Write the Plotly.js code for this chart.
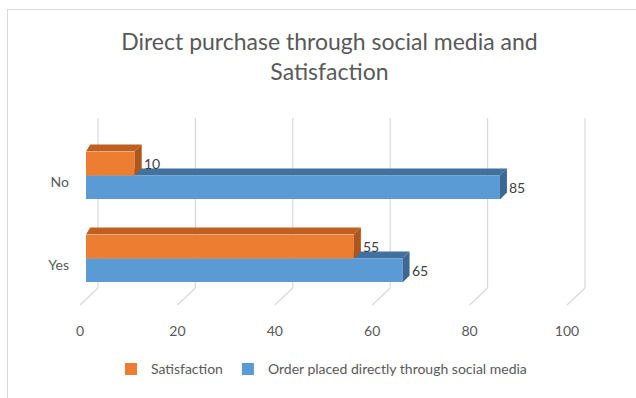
<!DOCTYPE html>
<html>
<head>
<meta charset="utf-8">
<script src="https://cdn.plot.ly/plotly-3.0.1.min.js"></script>
<style>
  html, body { margin: 0; padding: 0; background: #ffffff; }
  #wrap { position: relative; width: 636px; height: 398px; overflow: hidden; }
  #frame { position: absolute; left: 7px; top: 9px; width: 660px; height: 420px; border: 1px solid #d9d9d9; box-sizing: border-box; }
  #chart { position: absolute; left: 0; top: 0; width: 636px; height: 398px; }
</style>
</head>
<body>
<div id="wrap">
  <div id="frame"></div>
  <div id="chart"></div>
</div>
<script>
// ---- data ----
const categories = ['Yes', 'No'];
const satisfaction = [55, 10];
const orderPlaced = [65, 85];
const seriesNames = ['Order placed directly through social media', 'Satisfaction'];
const xTickValues = [0, 20, 40, 60, 80, 100];
const xTickLabels = ['0', '20', '40', '60', '80', '100'];

// ---- styling ----
const W = 636, H = 398;
const M = { l: 86, r: 63, t: 134, b: 94 };
const plotW = W - M.l - M.r;
const plotH = H - M.t - M.b;
const xRange = [0, 100];
const yRange = [-0.5, 1.5];
const pxPerX = plotW / (xRange[1] - xRange[0]);
const pxPerCat = plotH / (yRange[1] - yRange[0]);
const bargap = 0.435;
const barPx = pxPerCat * (1 - bargap) / 2;
const depth = 7;
const colors = {
  orange: '#ED7D31', orangeTop: '#BF6020', orangeSide: '#AE561B',
  blue: '#5B9BD5', blueTop: '#41719C', blueSide: '#3C6894'
};
const fontFamily = 'Lato, "Open Sans", sans-serif';

const traces = [
  { type: 'bar', orientation: 'h', name: seriesNames[0], y: categories, x: orderPlaced,
    marker: { color: colors.blue, line: { width: 0 } }, hoverinfo: 'x+name' },
  { type: 'bar', orientation: 'h', name: seriesNames[1], y: categories, x: satisfaction,
    marker: { color: colors.orange, line: { width: 0 } }, hoverinfo: 'x+name' }
];

// 3D faces built from the data values
const shapes = [];
function faces(values, topOffset, topColor, sideColor, layerTop) {
  values.forEach((v, i) => {
    const len = v * pxPerX;
    const top = topOffset;
    shapes.push({
      type: 'path', layer: layerTop, xref: 'x', yref: 'y',
      xsizemode: 'pixel', ysizemode: 'pixel', xanchor: v, yanchor: categories[i],
      path: `M${-len},${top} L${-len + depth * 0.6},${top + depth} L${depth},${top + depth} L0,${top} Z`,
      fillcolor: topColor, line: { width: 0 }
    });
    shapes.push({
      type: 'path', layer: 'above', xref: 'x', yref: 'y',
      xsizemode: 'pixel', ysizemode: 'pixel', xanchor: v, yanchor: categories[i],
      path: `M0,${top} L${depth},${top + depth} L${depth},${top - barPx + depth} L0,${top - barPx} Z`,
      fillcolor: sideColor, line: { width: 0 }
    });
  });
}
// gridlines on back plane with perspective diagonal (positions from the axis range)
xTickValues.forEach(t => {
  const frac = (t - xRange[0]) / (xRange[1] - xRange[0]);
  shapes.push({ type: 'line', layer: 'below', xref: 'paper', yref: 'paper',
    xsizemode: 'pixel', ysizemode: 'pixel', xanchor: frac, yanchor: 0,
    x0: 12, x1: 12, y0: 12, y1: 182, line: { color: '#d9d9d9', width: 1.2 } });
  shapes.push({ type: 'line', layer: 'below', xref: 'paper', yref: 'paper',
    xsizemode: 'pixel', ysizemode: 'pixel', xanchor: frac, yanchor: 0,
    x0: 12, x1: -6, y0: 12, y1: -5, line: { color: '#d9d9d9', width: 1.2 } });
});
faces(orderPlaced, 0, colors.blueTop, colors.blueSide, 'below');
faces(satisfaction, barPx, colors.orangeTop, colors.orangeSide, 'above');

// value labels
const annotations = [];
function labels(values, yShift) {
  values.forEach((v, i) => {
    annotations.push({ x: v, y: categories[i], xref: 'x', yref: 'y', text: String(v),
      showarrow: false, xanchor: 'left', yanchor: 'middle', xshift: 7, yshift: yShift,
      font: { family: fontFamily, size: 14, color: '#404040' } });
  });
}
labels(orderPlaced, -barPx / 2);
labels(satisfaction, barPx / 2);

const layout = {
  width: W, height: H,
  margin: M,
  paper_bgcolor: 'rgba(0,0,0,0)', plot_bgcolor: 'rgba(0,0,0,0)',
  barmode: 'group', bargap: bargap, bargroupgap: 0,
  title: {
    text: 'Direct purchase through social media and<br>Satisfaction',
    x: 0.518, xanchor: 'center', y: 1 - 50 / H, yanchor: 'top', yref: 'container',
    font: { family: fontFamily, size: 23, color: '#595959' }
  },
  font: { family: fontFamily, color: '#595959' },
  xaxis: {
    range: xRange, tickvals: xTickValues, ticktext: xTickLabels,
    showgrid: false, zeroline: false, showline: false, ticks: '',
    ticklabelstandoff: 21, ticklabelshift: -6,
    tickfont: { family: fontFamily, size: 14, color: '#595959' }, fixedrange: true
  },
  yaxis: {
    type: 'category', categoryorder: 'array', categoryarray: categories, range: yRange,
    showgrid: false, zeroline: false, showline: false, ticks: '',
    ticklabelstandoff: 16, ticklabelshift: 7,
    tickfont: { family: fontFamily, size: 14, color: '#595959' }, fixedrange: true
  },
  showlegend: true,
  legend: {
    orientation: 'h', traceorder: 'reversed', x: 0.5 - 8 / plotW, xanchor: 'center',
    y: -(375 - (H - M.b)) / plotH, yanchor: 'middle',
    font: { family: fontFamily, size: 14, color: '#595959' },
    itemwidth: 30, bgcolor: 'rgba(0,0,0,0)'
  },
  shapes: shapes,
  annotations: annotations
};

Plotly.newPlot('chart', traces, layout, { displayModeBar: false, staticPlot: true });
</script>
</body>
</html>
